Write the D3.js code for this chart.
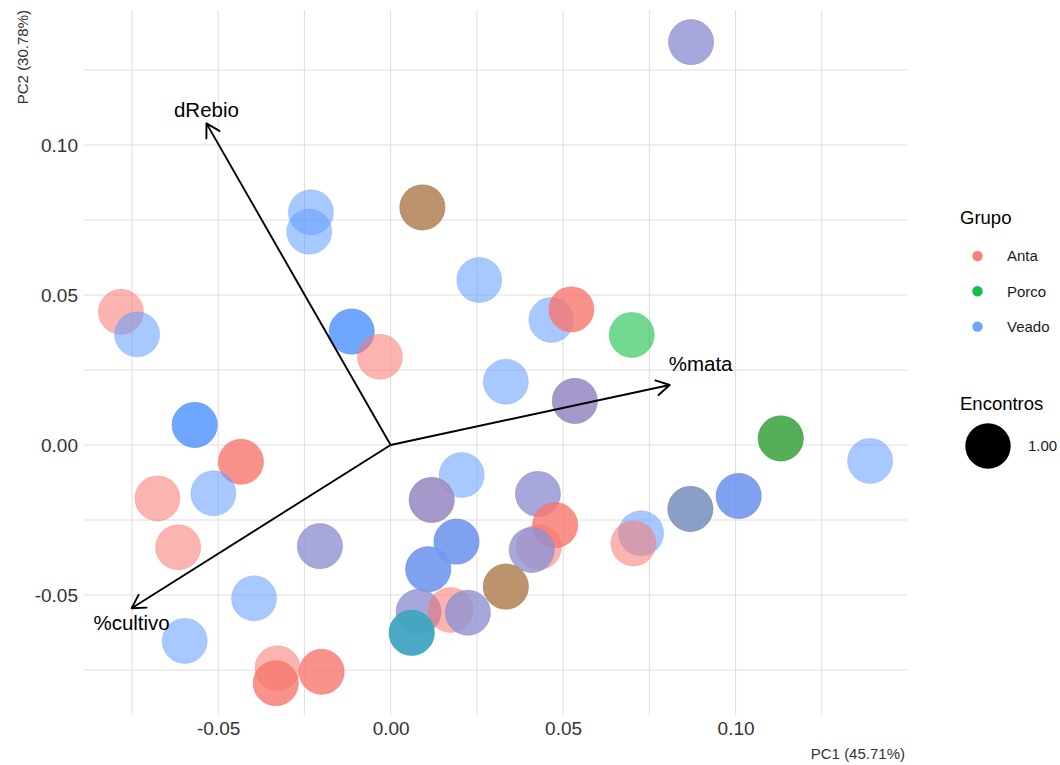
<!DOCTYPE html>
<html>
<head>
<meta charset="utf-8">
<script src="https://cdn.jsdelivr.net/npm/d3@7"></script>
<style>
  html, body { margin: 0; padding: 0; background: #ffffff; }
  svg { display: block; font-family: "Liberation Sans", Arial, sans-serif; }
</style>
</head>
<body>
<svg id="chart" width="1060" height="765"></svg>
<script>
// PCA scores (one row per observation, drawn in row order)
const pc1 = [
  0.0871, 0.0871,
  0.0092, 0.0092, 0.0092,
  -0.0231, -0.0236, 0.0257,
  -0.0782, -0.0735,
  0.0466, 0.0524, 0.0524,
  0.0699,
  -0.0113, -0.0113, -0.0113,
  -0.0031, 0.0334,
  0.0534, 0.0534, 0.0534,
  -0.0568, -0.0568, -0.0568,
  -0.0434, -0.0434,
  0.1131, 0.1131, 0.1131,
  0.1390,
  -0.0676, -0.0514, 0.0206,
  0.0119, 0.0119, 0.0119,
  0.0427, 0.0427,
  0.0477, 0.0477,
  0.0726, 0.0704,
  0.0869, 0.0869, 0.0869,
  0.1009, 0.1009, 0.1009,
  -0.0616,
  -0.0205, -0.0205,
  0.0191, 0.0191, 0.0191,
  0.0109, 0.0109, 0.0109,
  0.0430, 0.0409, 0.0409,
  0.0334, 0.0334, 0.0334,
  0.0081, 0.0081, 0.0174, 0.0224, 0.0224,
  0.0061, 0.0061, 0.0061, 0.0061,
  -0.0396, -0.0597,
  -0.0328, -0.0333, -0.0333,
  -0.0200, -0.0200
];
const pc2 = [
  0.1343, 0.1343,
  0.0792, 0.0792, 0.0792,
  0.0776, 0.0711, 0.0550,
  0.0444, 0.0369,
  0.0417, 0.0452, 0.0452,
  0.0367,
  0.0378, 0.0378, 0.0378,
  0.0294, 0.0211,
  0.0147, 0.0147, 0.0147,
  0.0067, 0.0067, 0.0067,
  -0.0056, -0.0056,
  0.0022, 0.0022, 0.0022,
  -0.0053,
  -0.0178, -0.0161, -0.0100,
  -0.0183, -0.0183, -0.0183,
  -0.0163, -0.0163,
  -0.0267, -0.0267,
  -0.0294, -0.0328,
  -0.0213, -0.0213, -0.0213,
  -0.0170, -0.0170, -0.0170,
  -0.0341,
  -0.0337, -0.0337,
  -0.0322, -0.0322, -0.0322,
  -0.0414, -0.0414, -0.0414,
  -0.0340, -0.0350, -0.0350,
  -0.0472, -0.0472, -0.0472,
  -0.0556, -0.0556, -0.0550, -0.0559, -0.0559,
  -0.0626, -0.0626, -0.0626, -0.0626,
  -0.0511, -0.0653,
  -0.0744, -0.0794, -0.0794,
  -0.0756, -0.0756
];
const grupo = [
  "Anta", "Veado",
  "Anta", "Porco", "Anta",
  "Veado", "Veado", "Veado",
  "Anta", "Veado",
  "Veado", "Anta", "Anta",
  "Porco",
  "Veado", "Veado", "Veado",
  "Anta", "Veado",
  "Anta", "Anta", "Veado",
  "Veado", "Veado", "Veado",
  "Anta", "Anta",
  "Porco", "Anta", "Porco",
  "Veado",
  "Anta", "Veado", "Veado",
  "Anta", "Anta", "Veado",
  "Anta", "Veado",
  "Anta", "Anta",
  "Veado", "Anta",
  "Porco", "Anta", "Veado",
  "Anta", "Veado", "Veado",
  "Anta",
  "Anta", "Veado",
  "Anta", "Veado", "Veado",
  "Anta", "Veado", "Veado",
  "Anta", "Anta", "Veado",
  "Anta", "Porco", "Anta",
  "Anta", "Veado", "Anta", "Anta", "Veado",
  "Porco", "Veado", "Porco", "Veado",
  "Veado", "Veado",
  "Anta", "Anta", "Anta",
  "Anta", "Anta"
];

// Variable loadings (arrows)
const varNames = ["dRebio", "%mata", "%cultivo"];
const varPC1 = [-0.0534, 0.0809, -0.0751];
const varPC2 = [0.1072, 0.0200, -0.0544];

// Legend and axis content
const groups = ["Anta", "Porco", "Veado"];
const groupColors = ["#F8766D", "#00BA38", "#619CFF"];
const xTicks = [-0.05, 0.00, 0.05, 0.10];
const yTicks = [-0.05, 0.00, 0.05, 0.10];
const xGrid = [-0.075, -0.05, -0.025, 0, 0.025, 0.05, 0.075, 0.1, 0.125];
const yGrid = [-0.075, -0.05, -0.025, 0, 0.025, 0.05, 0.075, 0.1, 0.125];
const xTitle = "PC1 (45.71%)";
const yTitle = "PC2 (30.78%)";
const sizeTitle = "Encontros";
const sizeLabel = "1.00";
const colorTitle = "Grupo";

const svg = d3.select("#chart");
const panel = { left: 84, right: 907, top: 10, bottom: 715 };

const x = d3.scaleLinear().domain([-0.0889, 0.1497]).range([panel.left, panel.right]);
const y = d3.scaleLinear().domain([-0.09, 0.145]).range([panel.bottom, panel.top]);
const color = d3.scaleOrdinal().domain(groups).range(groupColors);
const pointR = 22.5;
const alpha = 0.55;

// tick labels use a plain hyphen for negatives
const fmt = d3.formatLocale({ decimal: ".", thousands: ",", grouping: [3], currency: ["", ""], minus: "-" }).format(".2f");

// grid
const grid = svg.append("g").attr("stroke", "#dedede").attr("stroke-width", 1);
grid.selectAll("line.v").data(xGrid).join("line")
  .attr("class", "v")
  .attr("x1", d => x(d)).attr("x2", d => x(d))
  .attr("y1", panel.top).attr("y2", panel.bottom);
grid.selectAll("line.h").data(yGrid).join("line")
  .attr("class", "h")
  .attr("y1", d => y(d)).attr("y2", d => y(d))
  .attr("x1", panel.left).attr("x2", panel.right);

// axes (text only)
const xAxis = svg.append("g")
  .attr("transform", `translate(0,${panel.bottom})`)
  .call(d3.axisBottom(x).tickValues(xTicks).tickFormat(fmt).tickSize(0).tickPadding(7));
const yAxis = svg.append("g")
  .attr("transform", `translate(${panel.left},0)`)
  .call(d3.axisLeft(y).tickValues(yTicks).tickFormat(fmt).tickSize(0).tickPadding(6));
[xAxis, yAxis].forEach(a => {
  a.select(".domain").remove();
  a.selectAll("text").attr("font-size", 19).attr("fill", "#333333")
    .attr("font-family", "'Liberation Sans', Arial, sans-serif");
});

svg.append("text")
  .attr("x", panel.right - 2).attr("y", 759)
  .attr("text-anchor", "end").attr("font-size", 15).attr("fill", "#333333")
  .text(xTitle);
svg.append("text")
  .attr("transform", `translate(28,${panel.top}) rotate(-90)`)
  .attr("text-anchor", "end").attr("font-size", 15).attr("fill", "#333333")
  .text(yTitle);

// points
const rows = pc1.map((v, i) => ({ pc1: v, pc2: pc2[i], grupo: grupo[i] }));
svg.append("g").selectAll("circle").data(rows).join("circle")
  .attr("cx", d => x(d.pc1))
  .attr("cy", d => y(d.pc2))
  .attr("r", pointR)
  .attr("fill", d => color(d.grupo))
  .attr("fill-opacity", alpha)
  .attr("stroke", d => color(d.grupo))
  .attr("stroke-opacity", alpha * 0.6)
  .attr("stroke-width", 1);

// loading arrows
const arrows = varNames.map((n, i) => ({ name: n, pc1: varPC1[i], pc2: varPC2[i] }));
const arrowG = svg.append("g").attr("stroke", "#000").attr("stroke-width", 1.9)
  .attr("fill", "none").attr("stroke-linecap", "round").attr("stroke-linejoin", "round");
arrows.forEach(a => {
  const x0 = x(0), y0 = y(0), x1 = x(a.pc1), y1 = y(a.pc2);
  const ang = Math.atan2(y1 - y0, x1 - x0);
  const len = 15, spread = Math.PI / 6;
  const p = d3.path();
  p.moveTo(x0, y0); p.lineTo(x1, y1);
  p.moveTo(x1 - len * Math.cos(ang - spread), y1 - len * Math.sin(ang - spread));
  p.lineTo(x1, y1);
  p.lineTo(x1 - len * Math.cos(ang + spread), y1 - len * Math.sin(ang + spread));
  arrowG.append("path").attr("d", p.toString());
});

// arrow labels: placed just beyond each tip
const labelPlace = {
  "dRebio":   { anchor: "middle", dx: 0,  dy: -6 },
  "%mata":    { anchor: "start",  dx: -1, dy: -14 },
  "%cultivo": { anchor: "middle", dx: 0,  dy: 22 }
};
svg.append("g").selectAll("text").data(arrows).join("text")
  .attr("x", d => x(d.pc1) + labelPlace[d.name].dx)
  .attr("y", d => y(d.pc2) + labelPlace[d.name].dy)
  .attr("text-anchor", d => labelPlace[d.name].anchor)
  .attr("font-size", 20.5).attr("fill", "#000")
  .text(d => d.name);

// legend: colour
const leg = svg.append("g");
leg.append("text").attr("x", 960).attr("y", 224)
  .attr("font-size", 18.5).attr("fill", "#000").text(colorTitle);
const keys = leg.selectAll("g.key").data(groups).join("g")
  .attr("class", "key")
  .attr("transform", (d, i) => `translate(0,${256 + i * 35.3})`);
keys.append("circle").attr("cx", 977.5).attr("cy", 0).attr("r", 5.2)
  .attr("fill", d => color(d)).attr("fill-opacity", 0.92);
keys.append("text").attr("x", 1007).attr("y", 0).attr("dy", "0.35em")
  .attr("font-size", 15).attr("fill", "#1a1a1a").text(d => d);

// legend: size
leg.append("text").attr("x", 960).attr("y", 410)
  .attr("font-size", 18.5).attr("fill", "#000").text(sizeTitle);
leg.append("circle").attr("cx", 988).attr("cy", 446).attr("r", 22.7).attr("fill", "#000");
leg.append("text").attr("x", 1028).attr("y", 446).attr("dy", "0.35em")
  .attr("font-size", 15).attr("fill", "#1a1a1a").text(sizeLabel);
</script>
</body>
</html>
